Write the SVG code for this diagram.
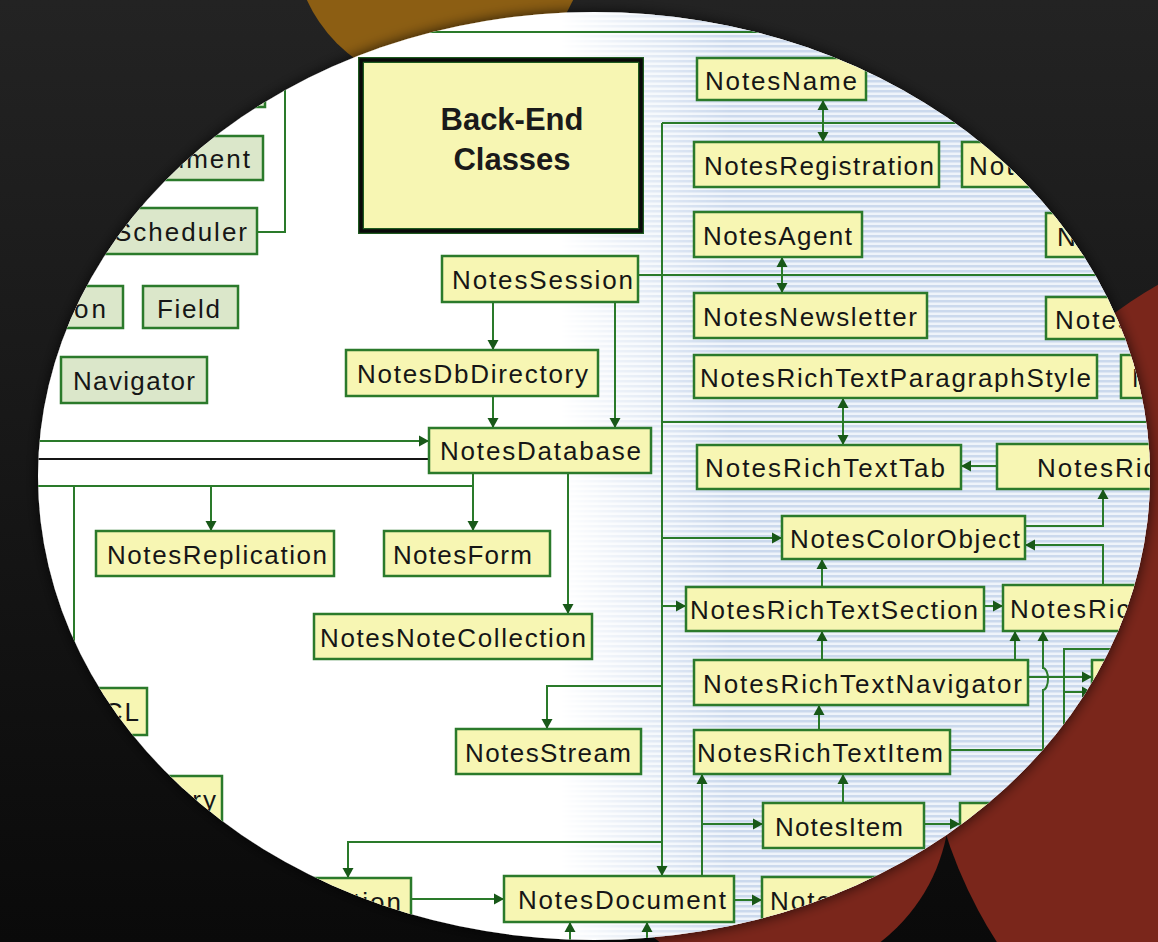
<svg xmlns="http://www.w3.org/2000/svg" width="1158" height="942" viewBox="0 0 1158 942">
  <defs>
    <style>
      .be rect { fill: #f7f6b3; stroke: #2b7a2b; stroke-width: 2.5; }
      .fe rect { fill: #dbe7ca; stroke: #2b7a2b; stroke-width: 2.5; }
      .node text { font-family: "Liberation Sans", Arial, sans-serif; font-size: 26px; fill: #161616; letter-spacing: 1px; }
      .node text.wide { letter-spacing: 2px; }
      .node text.wider { letter-spacing: 3px; }
      .title text { font-family: "Liberation Sans", Arial, sans-serif; font-size: 31px; font-weight: bold; fill: #1a1a1a; text-anchor: middle; }
      .wire { fill: none; stroke: #2a7a2a; stroke-width: 2; }
      .arr { marker-end: url(#ah); }
      .dbl { marker-start: url(#ah2); marker-end: url(#ah); }
      .blk { fill: none; stroke: #151515; stroke-width: 2.2; }
    </style>
    <linearGradient id="bg" x1="0" y1="0" x2="0" y2="1">
      <stop offset="0" stop-color="#232323"/>
      <stop offset="1" stop-color="#0a0a0a"/>
    </linearGradient>
    <linearGradient id="fade" gradientUnits="userSpaceOnUse" x1="560" y1="0" x2="730" y2="0">
      <stop offset="0" stop-color="#fff" stop-opacity="0"/>
      <stop offset="1" stop-color="#fff" stop-opacity="1"/>
    </linearGradient>
    <mask id="stripeMask">
      <rect x="0" y="0" width="1158" height="942" fill="url(#fade)"/>
    </mask>
    <pattern id="stripes" width="10" height="5" patternUnits="userSpaceOnUse">
      <rect width="10" height="5" fill="#eff4fa"/>
      <rect width="10" height="2.5" fill="#cbd9ed"/>
    </pattern>
    <clipPath id="lens">
      <ellipse cx="594" cy="476" rx="556" ry="464"/>
    </clipPath>
    <filter id="shadow" x="-10%" y="-10%" width="120%" height="120%">
      <feDropShadow dx="0" dy="0" stdDeviation="7" flood-color="#000" flood-opacity="0.75"/>
    </filter>
    <marker id="ah" viewBox="0 -6 10 12" refX="10" refY="0" markerWidth="10" markerHeight="12" markerUnits="userSpaceOnUse" orient="auto">
      <path d="M0,-5.5 L10,0 L0,5.5 Z" fill="#185818"/>
    </marker>
    <marker id="ah2" viewBox="0 -6 10 12" refX="10" refY="0" markerWidth="10" markerHeight="12" markerUnits="userSpaceOnUse" orient="auto-start-reverse">
      <path d="M0,-5.5 L10,0 L0,5.5 Z" fill="#185818"/>
    </marker>
  </defs>

  <!-- backdrop -->
  <rect x="0" y="0" width="1158" height="942" fill="url(#bg)"/>
  <circle cx="440" cy="-60" r="146" fill="#8c5e13"/>
  <circle cx="1390" cy="690" r="467" fill="#7a261b"/>
  <circle cx="770" cy="800" r="180" fill="#7a261b"/>

  <!-- lens with shadow -->
  <ellipse cx="594" cy="476" rx="556" ry="464" fill="#ffffff" filter="url(#shadow)"/>

  <g clip-path="url(#lens)">
    <rect x="540" y="0" width="618" height="942" fill="url(#stripes)" mask="url(#stripeMask)"/>

    <!-- connectors -->
    <g id="connectors">
      <path class="wire" d="M300,32 H1150"/>
      <path class="wire" d="M285,40 V232 H257"/>
      <path class="wire" d="M662,123 H1150"/>
      <path class="wire arr" d="M662,123 V876"/>
      <path class="wire dbl" d="M823,100 V142"/>
      <path class="wire" d="M638,275 H1150"/>
      <path class="wire dbl" d="M782,257 V293"/>
      <path class="wire" d="M662,422 H1150"/>
      <path class="wire dbl" d="M843,398 V445"/>
      <path class="wire arr" d="M997,466 H961"/>
      <path class="wire arr" d="M662,538 H782"/>
      <path class="wire arr" d="M1025,526 H1103 V489"/>
      <path class="wire arr" d="M1103,585 V545 H1025"/>
      <path class="wire arr" d="M822,587 V559"/>
      <path class="wire arr" d="M662,606 H686"/>
      <path class="wire arr" d="M984,606 H1003"/>
      <path class="wire arr" d="M822,660 V631"/>
      <path class="wire arr" d="M1015,660 V631"/>
      <path class="wire arr" d="M950,750 H1043 V690 A5,11 0 0 0 1043,668 V631"/>
      <path class="wire arr" d="M1028,677 H1092"/>
      <path class="wire" d="M1150,649 H1064 V800"/>
      <path class="wire arr" d="M1064,692 H1092"/>
      <path class="wire arr" d="M819,730 V705"/>
      <path class="wire arr" d="M843,803 V774"/>
      <path class="wire arr" d="M924,824 H960"/>
      <path class="wire arr" d="M702,876 V774"/>
      <path class="wire arr" d="M702,824 H763"/>
      <path class="wire arr" d="M734,900 H762"/>
      <path class="wire arr" d="M411,899 H504"/>
      <path class="wire arr" d="M662,842 H348 V878"/>
      <path class="wire arr" d="M662,686 H547 V729"/>
      <path class="wire arr" d="M570,950 V922"/>
      <path class="wire arr" d="M647,950 V922"/>
      <path class="wire arr" d="M568,473 V614"/>
      <path class="wire arr" d="M493,302 V350"/>
      <path class="wire arr" d="M493,396 V428"/>
      <path class="wire arr" d="M615,302 V428"/>
      <path class="wire arr" d="M20,441 H429"/>
      <path class="blk" d="M20,459 H429"/>
      <path class="wire arr" d="M473,473 V531"/>
      <path class="wire" d="M473,486 H20"/>
      <path class="wire arr" d="M211,486 V531"/>
      <path class="wire arr" d="M74,486 V688"/>
    </g>

    <!-- title block -->
    <g id="backend-title" class="title">
      <rect x="361" y="60" width="280" height="171" fill="#f7f6b3" stroke="#1f5a1f" stroke-width="6"/>
      <rect x="361" y="60" width="280" height="171" fill="none" stroke="#0a0a0a" stroke-width="3.5"/>
      <text x="512" y="130">Back-End</text>
      <text x="512" y="170">Classes</text>
    </g>

    <!-- front-end classes -->
    <g id="fe-top" class="node fe"><rect x="100" y="62" width="165" height="45"/></g>
    <g id="notesuidocument" class="node fe"><rect x="40" y="136" width="223" height="44"/><text class="wide" x="252" y="168" text-anchor="end">NotesUIDocument</text></g>
    <g id="notesuischeduler" class="node fe"><rect x="40" y="208" width="217" height="46"/><text class="wide" x="249" y="241" text-anchor="end">NotesUIScheduler</text></g>
    <g id="button" class="node fe"><rect x="20" y="286" width="103" height="42"/><text class="wider" x="109" y="318" text-anchor="end">Button</text></g>
    <g id="field" class="node fe"><rect x="143" y="286" width="95" height="42"/><text x="157" y="318" textLength="64" lengthAdjust="spacing">Field</text></g>
    <g id="navigator" class="node fe"><rect x="61" y="357" width="146" height="46"/><text x="73" y="390" textLength="123" lengthAdjust="spacing">Navigator</text></g>

    <!-- back-end classes -->
    <g id="notesname" class="node be"><rect x="697" y="58" width="169" height="42"/><text x="705" y="90" textLength="153" lengthAdjust="spacing">NotesName</text></g>
    <g id="notesregistration" class="node be"><rect x="694" y="142" width="245" height="45"/><text x="704" y="175" textLength="231" lengthAdjust="spacing">NotesRegistration</text></g>
    <g id="noteslog" class="node be"><rect x="962" y="142" width="150" height="45"/><text class="wide" x="969" y="175">NotesLog</text></g>
    <g id="notesagent" class="node be"><rect x="694" y="212" width="168" height="45"/><text x="703" y="245" textLength="150" lengthAdjust="spacing">NotesAgent</text></g>
    <g id="notestimer" class="node be"><rect x="1046" y="213" width="150" height="44"/><text class="wide" x="1057" y="246">NotesTimer</text></g>
    <g id="notesnewsletter" class="node be"><rect x="694" y="293" width="233" height="45"/><text x="703" y="326" textLength="215" lengthAdjust="spacing">NotesNewsletter</text></g>
    <g id="notesdatetime" class="node be"><rect x="1046" y="297" width="180" height="42"/><text class="wide" x="1055" y="329">NotesDateTime</text></g>
    <g id="notesrichtextparagraphstyle" class="node be"><rect x="694" y="355" width="403" height="43"/><text x="700" y="387" textLength="392" lengthAdjust="spacing">NotesRichTextParagraphStyle</text></g>
    <g id="notesdaterange" class="node be"><rect x="1121" y="355" width="200" height="43"/><text class="wide" x="1132" y="387">NotesDateRange</text></g>
    <g id="notesrichtexttab" class="node be"><rect x="697" y="445" width="264" height="44"/><text x="705" y="477" textLength="241" lengthAdjust="spacing">NotesRichTextTab</text></g>
    <g id="notesrichtextstyle" class="node be"><rect x="997" y="444" width="260" height="45"/><text class="wide" x="1037" y="477">NotesRichTextStyle</text></g>
    <g id="notescolorobject" class="node be"><rect x="782" y="516" width="243" height="43"/><text x="790" y="548" textLength="231" lengthAdjust="spacing">NotesColorObject</text></g>
    <g id="notesrichtextsection" class="node be"><rect x="686" y="587" width="298" height="44"/><text x="690" y="619" textLength="289" lengthAdjust="spacing">NotesRichTextSection</text></g>
    <g id="notesrichtexttable" class="node be"><rect x="1003" y="585" width="250" height="46"/><text class="wide" x="1010" y="618">NotesRichTextTable</text></g>
    <g id="notesrichtextnavigator" class="node be"><rect x="694" y="660" width="334" height="45"/><text x="703" y="693" textLength="320" lengthAdjust="spacing">NotesRichTextNavigator</text></g>
    <g id="notesrichtextrange" class="node be"><rect x="1092" y="660" width="200" height="45"/></g>
    <g id="notesrichtextitem" class="node be"><rect x="694" y="730" width="256" height="44"/><text x="697" y="762" textLength="247" lengthAdjust="spacing">NotesRichTextItem</text></g>
    <g id="notesitem" class="node be"><rect x="763" y="803" width="161" height="45"/><text x="775" y="836" textLength="129" lengthAdjust="spacing">NotesItem</text></g>
    <g id="notesmimeentity" class="node be"><rect x="960" y="803" width="200" height="45"/></g>
    <g id="notesdocument" class="node be"><rect x="504" y="876" width="230" height="46"/><text x="518" y="909" textLength="209" lengthAdjust="spacing">NotesDocument</text></g>
    <g id="notesembeddedobject" class="node be"><rect x="762" y="877" width="250" height="45"/><text class="wide" x="770" y="910">NotesEmbeddedObject</text></g>
    <g id="notesdocumentcollection" class="node be"><rect x="60" y="878" width="351" height="47"/><text class="wide" x="403" y="911" text-anchor="end">NotesDocumentCollection</text></g>
    <g id="notesstream" class="node be"><rect x="456" y="729" width="185" height="45"/><text x="465" y="762" textLength="167" lengthAdjust="spacing">NotesStream</text></g>
    <g id="notesnotecollection" class="node be"><rect x="314" y="614" width="278" height="45"/><text x="320" y="647" textLength="267" lengthAdjust="spacing">NotesNoteCollection</text></g>
    <g id="notesdatabase" class="node be"><rect x="429" y="428" width="222" height="45"/><text x="440" y="460" textLength="202" lengthAdjust="spacing">NotesDatabase</text></g>
    <g id="notesform" class="node be"><rect x="384" y="531" width="166" height="45"/><text x="393" y="564" textLength="140" lengthAdjust="spacing">NotesForm</text></g>
    <g id="notesreplication" class="node be"><rect x="96" y="531" width="238" height="45"/><text x="107" y="564" textLength="221" lengthAdjust="spacing">NotesReplication</text></g>
    <g id="notesdbdirectory" class="node be"><rect x="346" y="350" width="252" height="46"/><text x="357" y="383" textLength="232" lengthAdjust="spacing">NotesDbDirectory</text></g>
    <g id="notessession" class="node be"><rect x="442" y="256" width="196" height="46"/><text x="452" y="289" textLength="182" lengthAdjust="spacing">NotesSession</text></g>
    <g id="notesacl" class="node be"><rect x="-20" y="688" width="167" height="47"/><text class="wide" x="141" y="721" text-anchor="end">NotesACL</text></g>
    <g id="notesaclentry" class="node be"><rect x="20" y="776" width="202" height="47"/><text class="wide" x="218" y="809" text-anchor="end">NotesACLEntry</text></g>
  </g>
</svg>
